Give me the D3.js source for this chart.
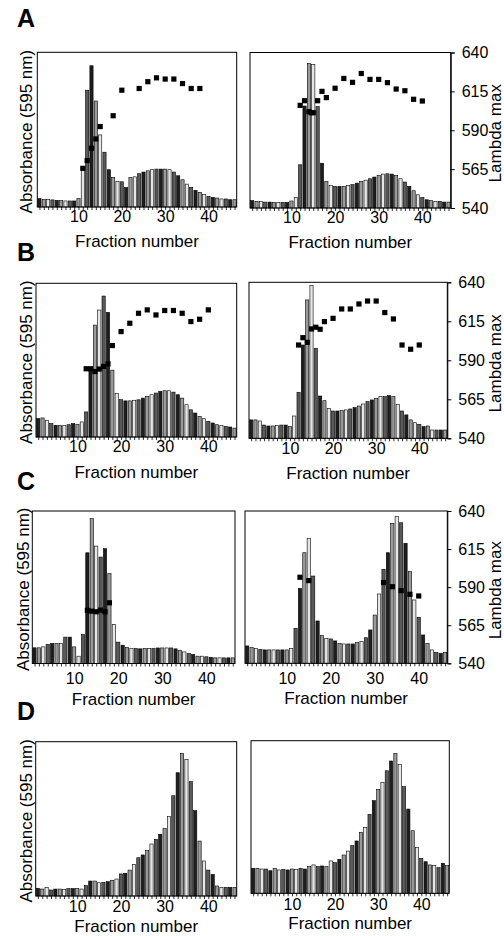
<!DOCTYPE html>
<html>
<head>
<meta charset="utf-8">
<script src="https://cdn.jsdelivr.net/npm/d3@7"></script>
<style>
  html, body { margin: 0; padding: 0; background: #fff; }
  svg { display: block; font-family: "Liberation Sans", Arial, sans-serif; }
</style>
</head>
<body>
<script>
// ---------- data ----------
const fractions = [1,2,3,4,5,6,7,8,9,10,11,12,13,14,15,16,17,18,19,20,21,22,23,24,25,26,27,28,29,30,31,32,33,34,35,36,37,38,39,40,41,42,43,44,45,46];
const fractionTickLabels = [10, 20, 30, 40];
const lambdaTicks = [540, 565, 590, 615, 640];
const panelLetters = ["A", "B", "C", "D"];

// Absorbance (595 nm), relative units (percent of panel height)
const absA1 = [5.4,5.0,4.8,4.6,4.3,4.1,3.9,3.9,3.9,5.4, 25.6,75.5,91.3,68.5,46.6,35.4,24.1,19.1,16.5,16.3, 12.6,19.0,19.5,21.5,22.6,23.4,24.1,24.5,24.5,24.5, 24.1,22.6,20.2,17.6,14.8,12.7,10.8,9.5,8.0,6.9, 6.2,5.8,5.2,5.2,4.7,4.7];
const absA2 = [4.7,4.3,4.3,3.8,3.8,3.6,3.6,3.6,3.6,4.5, 6.8,27.8,65.6,92.9,92.3,65.2,28.8,17.1,14.5,13.9, 13.9,13.9,14.5,15.0,16.0,17.1,17.9,18.8,19.9,20.9, 21.8,22.0,21.8,20.9,18.8,16.7,13.9,11.1,8.5,6.8, 5.3,4.7,4.3,4.3,3.8,3.8];
const absB1 = [12.0,12.4,10.9,8.7,7.6,7.6,7.6,8.0,8.7,8.3, 9.8,16.3,44.6,72.8,82.6,91.7,81.1,43.5,28.3,24.3, 23.5,23.5,23.9,24.2,25.3,26.4,27.5,28.6,29.7,30.1, 30.1,29.2,27.5,25.3,21.0,17.7,15.6,13.4,11.9,10.2, 9.1,8.0,7.4,6.9,6.5,5.8];
const absB2 = [11.8,11.8,11.1,8.5,7.9,7.9,8.1,8.5,8.5,7.5, 14.3,29.5,59.8,88.7,97.9,57.7,27.1,24.1,19.2,17.5, 17.5,17.7,18.2,18.8,19.7,20.7,22.0,23.5,24.6,25.6, 26.7,26.7,27.4,26.7,21.8,17.5,15.0,11.8,10.0,9.0, 7.5,7.9,5.3,5.3,5.3,5.3];
const absC1 = [10.3,10.3,10.9,12.5,13.1,13.1,13.1,17.3,17.3,10.9, 4.8,19.0,72.6,95.0,77.0,69.8,75.3,58.9,25.6,14.0, 12.0,10.5,10.0,9.8,9.6,9.8,9.8,9.8,10.2,10.2, 10.2,10.2,9.6,8.7,7.6,6.5,5.9,4.8,4.8,4.4, 4.1,3.7,3.7,3.7,3.7,3.7];
const absC2 = [11.4,10.3,9.8,9.2,8.8,8.8,8.8,8.8,8.8,8.8, 9.8,23.0,49.2,72.6,82.1,57.3,27.8,18.2,16.4,16.0, 14.7,13.1,12.7,12.7,12.7,13.6,14.2,16.8,21.9,31.7, 45.5,61.7,72.6,91.9,96.3,92.3,78.8,60.2,41.6,30.2, 18.6,13.1,8.8,7.2,6.6,7.2];
const absD1 = [5.0,4.5,5.4,3.9,4.5,4.5,4.3,4.8,4.8,4.8, 4.5,6.7,9.7,9.7,8.6,8.9,9.3,10.2,11.0,14.3, 14.7,16.8,20.5,24.8,26.6,29.4,33.7,36.7,40.0,43.8, 51.4,65.0,79.9,92.4,88.6,74.1,55.3,35.6,22.7,16.8, 14.0,6.5,5.6,5.6,5.6,5.6];
const absD2 = [16.4,16.4,15.9,15.9,14.8,16.4,15.3,15.7,15.3,15.9, 15.7,16.4,15.9,17.5,18.6,17.5,17.9,17.5,21.2,20.1, 22.3,25.1,27.7,31.2,34.3,40.0,43.2,51.7,60.7,68.1, 72.5,80.3,86.7,91.7,84.5,69.9,55.2,41.0,30.1,22.9, 20.7,18.6,18.1,16.8,19.7,18.1];

// Lambda max (nm) points
const lamA1Frac = [11,12,13,14,15,18,20,24,26,28,30,32,34,36,38];
const lamA1 = [565,570,578,584,592,599,615.5,616.6,621,623.5,622.7,622.7,619.8,616.6,616.6];
const lamA2Frac = [12,13,14,14.5,15,16,17,18,20,22,24,26,28,30,32,34,36,38,40];
const lamA2 = [606,609,602,601.3,601.3,609,615,611,617,623.3,620.8,626.5,622.7,622.7,620.6,616.5,615.4,609.9,608.8];
const lamB1Frac = [12,13,14,15,16,17,18,20,22,24,26,28,30,32,34,36,38,40];
const lamB1 = [584.4,584.4,582.6,584.2,585.9,587.6,599.5,608.6,614,620.5,622.7,619.4,622.3,622.3,620.5,615.1,616.6,622.7];
const lamB2Frac = [12,13,14,15,16,17,18,20,22,24,26,28,30,32,34,36,38,40];
const lamB2 = [599.8,604.5,601.5,610.1,611.2,609.9,614.8,616.9,622.9,622.9,626.1,628,628,620.6,616.5,599.8,597.1,599.8];
const lamC1Frac = [13,14,15,16,17,18];
const lamC1 = [574.8,574.3,573.9,575,573.9,579.8];
const lamC2Frac = [13,15,32,34,36,38,40];
const lamC2 = [596.5,594.3,593,590.3,587.7,585.3,584.2];

// ---------- layout ----------
const FONT = '"Liberation Sans", Arial, sans-serif';
const fills = ["#1e1e1e", "#9a9a9a", "#e6e6e6", "#5a5a5a"];

const rows = [
  { letterY: 27,  pad: 1, titleOff: 40 },
  { letterY: 261, pad: 1, titleOff: 41 },
  { letterY: 490, pad: 6, titleOff: 41 },
  { letterY: 720, pad: 2, titleOff: 36 }
];

const panels = [
  { row: 0, l: 37.3, r: 236.7, t: 52.3, b: 207,   abs: absA1, lf: lamA1Frac, lv: lamA1, left: true,  right: false, absX: 31.5 },
  { row: 0, l: 250,  r: 450.7, t: 52.5, b: 208,   abs: absA2, lf: lamA2Frac, lv: lamA2, left: false, right: true },
  { row: 1, l: 36,   r: 236.7, t: 283.3, b: 437,  abs: absB1, lf: lamB1Frac, lv: lamB1, left: true,  right: false, absX: 31.5 },
  { row: 1, l: 249,  r: 447.3, t: 282.3, b: 438.3, abs: absB2, lf: lamB2Frac, lv: lamB2, left: false, right: true },
  { row: 2, l: 32.3, r: 235,   t: 511,  b: 663.5, abs: absC1, lf: lamC1Frac, lv: lamC1, left: true,  right: false, absX: 28.5 },
  { row: 2, l: 245,  r: 447.3, t: 511,  b: 663.3, abs: absC2, lf: lamC2Frac, lv: lamC2, left: false, right: true },
  { row: 3, l: 35.7, r: 236.7, t: 741.7, b: 896,  abs: absD1, lf: null, lv: null, left: true,  right: false, absX: 31.5 },
  { row: 3, l: 251,  r: 449.3, t: 740.7, b: 893.3, abs: absD2, lf: null, lv: null, left: false, right: false }
];

const svg = d3.select("body").append("svg")
  .attr("width", 504).attr("height", 936)
  .style("font-family", FONT);
svg.append("rect").attr("width", 504).attr("height", 936).attr("fill", "#fff");

// panel letters
rows.forEach((r, i) => {
  svg.append("text").attr("x", 17).attr("y", r.letterY)
    .attr("font-size", 25).attr("font-weight", "bold").attr("fill", "#000")
    .text(panelLetters[i]);
});

function drawPanel(p) {
  const row = rows[p.row];
  const g = svg.append("g");
  const x = d3.scaleLinear().domain([0.5, 46.5]).range([p.l, p.r]);
  const y = d3.scaleLinear().domain([0, 100]).range([p.b, p.t]);
  const yl = d3.scaleLinear().domain([540, 640]).range([p.b, p.t]);
  const step = (p.r - p.l) / fractions.length;
  const bw = step * 0.74;

  const barData = fractions.map((f, i) => ({ f, v: p.abs[i], i }));
  g.selectAll("rect.bar").data(barData).join("rect")
    .attr("class", "bar")
    .attr("x", d => x(d.f) - bw / 2)
    .attr("width", bw)
    .attr("y", d => y(d.v))
    .attr("height", d => p.b - y(d.v))
    .attr("fill", d => fills[d.i % fills.length])
    .attr("stroke", "#000")
    .attr("stroke-width", 0.6);

  // frame
  g.append("rect")
    .attr("x", p.l).attr("y", p.t)
    .attr("width", p.r - p.l).attr("height", p.b - p.t)
    .attr("fill", "none").attr("stroke", "#000").attr("stroke-width", 1);

  // bottom axis
  const ax = d3.axisBottom(x)
    .tickValues(fractions)
    .tickSize(3)
    .tickPadding(row.pad)
    .tickFormat(d => fractionTickLabels.includes(d) ? String(d) : "");
  const gx = g.append("g").attr("transform", `translate(0,${p.b})`).call(ax);
  gx.select(".domain").remove();
  gx.selectAll("line").attr("stroke", "#000").attr("stroke-width", 0.8);
  gx.selectAll("text").attr("font-size", 16).attr("font-family", FONT).attr("fill", "#000");

  // x title
  g.append("text")
    .attr("x", (p.l + p.r) / 2).attr("y", p.b + row.titleOff)
    .attr("text-anchor", "middle").attr("font-size", 17).attr("fill", "#000")
    .text("Fraction number");

  // lambda max points
  if (p.lf) {
    const pts = p.lf.map((f, i) => ({ f, v: p.lv[i] }));
    g.selectAll("rect.pt").data(pts).join("rect")
      .attr("class", "pt")
      .attr("x", d => x(d.f) - 2.6)
      .attr("y", d => yl(d.v) - 2.6)
      .attr("width", 5.2).attr("height", 5.2)
      .attr("fill", "#000");
  }

  // right axis
  if (p.right) {
    const ay = d3.axisRight(yl).tickValues(lambdaTicks).tickSize(4).tickPadding(7);
    const gy = g.append("g").attr("transform", `translate(${p.r},0)`).call(ay);
    gy.select(".domain").attr("stroke", "#000");
    gy.selectAll("line").attr("stroke", "#000");
    gy.selectAll("text").attr("font-size", 16).attr("font-family", FONT).attr("fill", "#000");
    const cy = (p.t + p.b) / 2 + 3;
    g.append("text")
      .attr("transform", `translate(501,${cy}) rotate(-90)`)
      .attr("text-anchor", "middle").attr("font-size", 17).attr("fill", "#000")
      .text("Lambda max");
  }

  // left title
  if (p.left) {
    const cy = (p.t + p.b) / 2 + 2;
    g.append("text")
      .attr("transform", `translate(${p.absX},${cy}) rotate(-90)`)
      .attr("text-anchor", "middle").attr("font-size", 17).attr("fill", "#000")
      .text("Absorbance (595 nm)");
  }
}

panels.forEach(drawPanel);
</script>
</body>
</html>
